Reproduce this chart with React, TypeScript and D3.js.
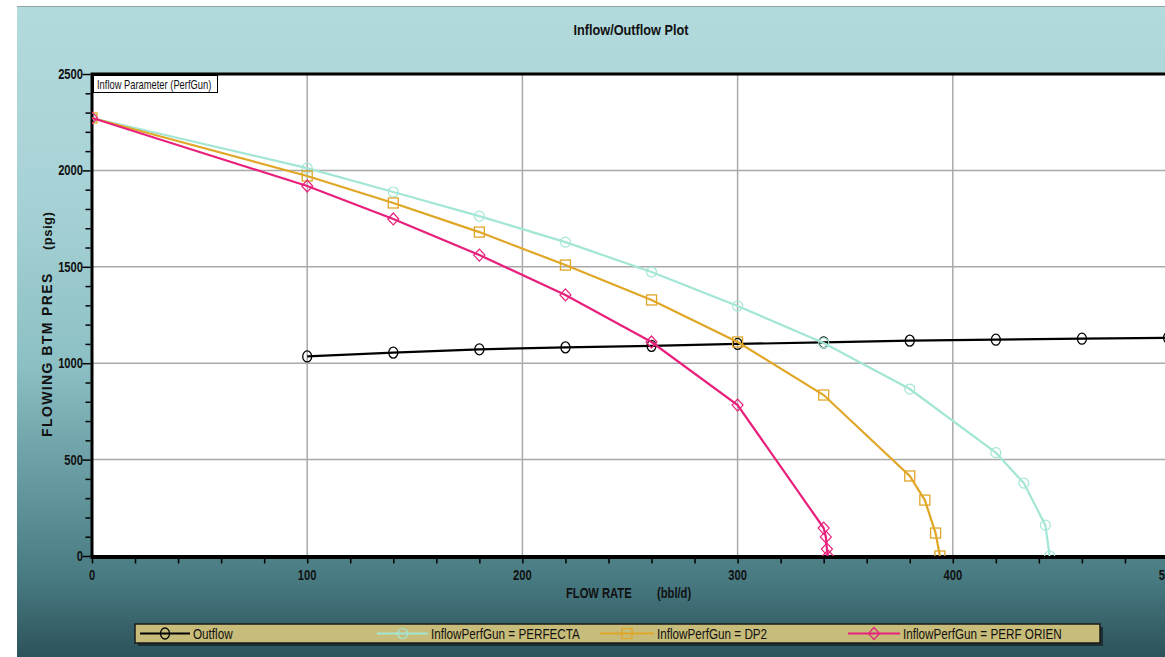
import React, { useEffect, useRef } from 'react';
import * as d3 from 'd3';

// Outflow curve (tubing performance)
const outflowX = [100, 140, 180, 220, 260, 300, 340, 380, 420, 460, 500];
const outflowY = [1035, 1055, 1072, 1082, 1090, 1100, 1108, 1117, 1122, 1127, 1132];

// Inflow curves, one per perforating gun
const perfectaX = [0, 100, 140, 180, 220, 260, 300, 340, 380, 420, 433, 443, 445];
const perfectaY = [2272, 2012, 1888, 1763, 1628, 1473, 1297, 1105, 866, 536, 378, 160, 0];

const dp2X = [0, 100, 140, 180, 220, 260, 300, 340, 380, 387, 392, 394];
const dp2Y = [2272, 1971, 1831, 1680, 1509, 1328, 1110, 835, 415, 290, 119, 0];

const orienX = [0, 100, 140, 180, 220, 260, 300, 340, 341, 341.5, 342];
const orienY = [2272, 1919, 1748, 1561, 1354, 1110, 783, 145, 99, 36, 0];

const seriesNames = ['Outflow', 'InflowPerfGun = PERFECTA', 'InflowPerfGun = DP2', 'InflowPerfGun = PERF ORIEN'];

const xTicks = [0, 100, 200, 300, 400, 500];
const yTicks = [0, 500, 1000, 1500, 2000, 2500];

const FONT = '"Liberation Sans", Arial, sans-serif';

// no narrow font installed, so squeeze a normal one horizontally
const narrowText = (g: any, x: number, y: number, text: string | number,
  opts: { size: number; bold?: boolean; anchor?: string; squeeze?: number; fill?: string }) =>
  g.append('text')
    .attr('transform', `translate(${x}, ${y}) scale(${opts.squeeze ?? 0.8}, 1)`)
    .attr('text-anchor', opts.anchor || 'start')
    .style('font-family', FONT)
    .style('font-weight', opts.bold ? 'bold' : 'normal')
    .style('font-size', `${opts.size}px`)
    .attr('fill', opts.fill || '#111')
    .text(text);

const App = () => {
  const ref = useRef<SVGSVGElement>(null);

  useEffect(() => {
    if (!ref.current) return;
    const svg = d3.select(ref.current);
    svg.selectAll('*').remove();

    const W = 1165;
    const H = 657;
    const plot = { left: 92, top: 74, right: 1168, bottom: 556 };

    const x = d3.scaleLinear().domain([0, 500]).range([plot.left, plot.right]);
    const y = d3.scaleLinear().domain([0, 2500]).range([plot.bottom, plot.top]);

    const defs = svg.append('defs');
    const grad = defs.append('linearGradient')
      .attr('id', 'bg').attr('x1', 0).attr('y1', 0).attr('x2', 0).attr('y2', 1);
    [
      [0, '#b3dadd'], [0.3, '#a7d2d5'], [0.55, '#8cc0c4'], [0.75, '#62959c'],
      [0.88, '#487a82'], [1, '#2c525a'],
    ].forEach(([o, c]) => grad.append('stop').attr('offset', o as number).attr('stop-color', c as string));

    defs.append('clipPath').attr('id', 'plotclip')
      .append('rect')
      .attr('x', plot.left).attr('y', plot.top)
      .attr('width', plot.right - plot.left).attr('height', plot.bottom - plot.top);

    // page + window background
    svg.append('rect').attr('width', W).attr('height', H).attr('fill', '#ffffff');
    svg.append('rect').attr('x', 17).attr('y', 6).attr('width', W - 17).attr('height', H - 6)
      .attr('fill', 'url(#bg)');
    svg.append('line').attr('x1', 17).attr('x2', W).attr('y1', 6.5).attr('y2', 6.5)
      .attr('stroke', '#8fa5a3').attr('stroke-width', 1);

    // title
    narrowText(svg, 631, 35, 'Inflow/Outflow Plot', { size: 15.5, bold: true, anchor: 'middle', squeeze: 0.82 });

    // plot area
    svg.append('rect')
      .attr('x', plot.left).attr('y', plot.top)
      .attr('width', plot.right - plot.left).attr('height', plot.bottom - plot.top)
      .attr('fill', '#ffffff');

    // grid
    const grid = svg.append('g').attr('stroke', '#a9a9a9').attr('stroke-width', 1.5);
    grid.selectAll('.vg').data(xTicks.slice(1, -1)).enter().append('line')
      .attr('x1', d => x(d)).attr('x2', d => x(d))
      .attr('y1', plot.top).attr('y2', plot.bottom);
    grid.selectAll('.hg').data(yTicks.slice(1, -1)).enter().append('line')
      .attr('x1', plot.left).attr('x2', plot.right)
      .attr('y1', d => y(d)).attr('y2', d => y(d));

    // axes (tick marks only, labels drawn squeezed below)
    const xAxis = svg.append('g').attr('transform', `translate(0, ${plot.bottom + 1.5})`)
      .call(d3.axisBottom(x).tickValues(d3.range(0, 501, 20)).tickSize(6).tickSizeOuter(0).tickFormat(() => ''));
    xAxis.select('.domain').remove();
    xAxis.selectAll('line').attr('stroke', '#000').attr('stroke-width', 1.5);

    const yAxis = svg.append('g').attr('transform', `translate(${plot.left - 1.5}, 0)`)
      .call(d3.axisLeft(y).tickValues(d3.range(0, 2501, 100)).tickSize(5).tickSizeOuter(0).tickFormat(() => ''));
    yAxis.select('.domain').remove();
    yAxis.selectAll('.tick line')
      .attr('x2', (d: any) => (d % 500 === 0 ? -8 : -5))
      .attr('stroke', '#000').attr('stroke-width', 1.5);

    const xLab = svg.append('g');
    xTicks.forEach(t => narrowText(xLab, x(t), 580, t, { size: 14, bold: true, anchor: 'middle' }));
    const yLab = svg.append('g');
    yTicks.forEach(t => narrowText(yLab, 83, y(t) + 5, t, { size: 14, bold: true, anchor: 'end' }));

    // thick frame lines (left, top, bottom)
    svg.append('path')
      .attr('d', `M${plot.left},${plot.bottom} L${plot.left},${plot.top} L${W},${plot.top}`)
      .attr('fill', 'none').attr('stroke', '#000').attr('stroke-width', 3);
    svg.append('line')
      .attr('x1', plot.left - 1.5).attr('x2', W).attr('y1', plot.bottom + 1).attr('y2', plot.bottom + 1)
      .attr('stroke', '#000').attr('stroke-width', 4);

    // axis titles
    svg.append('text')
      .attr('transform', 'translate(52, 437) rotate(-90)')
      .style('font-family', FONT).style('font-weight', 'bold')
      .style('font-size', '14px').style('letter-spacing', '1.4px')
      .attr('fill', '#111')
      .text('FLOWING BTM PRES');
    svg.append('text')
      .attr('transform', 'translate(52, 250) rotate(-90)')
      .style('font-family', FONT).style('font-weight', 'bold')
      .style('font-size', '13px').style('letter-spacing', '0.5px')
      .attr('fill', '#111')
      .text('(psig)');
    narrowText(svg, 566, 598, 'FLOW RATE', { size: 14, bold: true });
    narrowText(svg, 657, 598, '(bbl/d)', { size: 14, bold: true });

    // series
    const series = [
      { xs: outflowX, ys: outflowY, color: '#000000', marker: 'circle' },
      { xs: perfectaX, ys: perfectaY, color: '#a3e6d5', marker: 'ring' },
      { xs: dp2X, ys: dp2Y, color: '#e0a626', marker: 'square' },
      { xs: orienX, ys: orienY, color: '#e8207c', marker: 'diamond' },
    ];

    const line = d3.line<[number, number]>().x(d => x(d[0])).y(d => y(d[1]));
    const plotG = svg.append('g').attr('clip-path', 'url(#plotclip)');

    const drawMarker = (g: any, kind: string, color: string, px: number, py: number) => {
      if (kind === 'circle') {
        g.append('ellipse').attr('cx', px).attr('cy', py).attr('rx', 4.5).attr('ry', 5.5)
          .attr('fill', 'none').attr('stroke', color).attr('stroke-width', 1.3);
      } else if (kind === 'ring') {
        g.append('circle').attr('cx', px).attr('cy', py).attr('r', 5)
          .attr('fill', 'none').attr('stroke', color).attr('stroke-width', 1.2);
      } else if (kind === 'square') {
        g.append('rect').attr('x', px - 5).attr('y', py - 5).attr('width', 10).attr('height', 10)
          .attr('fill', 'none').attr('stroke', color).attr('stroke-width', 1.3);
      } else {
        g.append('path').attr('d', `M${px},${py - 6}L${px + 5.5},${py}L${px},${py + 6}L${px - 5.5},${py}Z`)
          .attr('fill', 'none').attr('stroke', color).attr('stroke-width', 1.2);
      }
    };

    series.forEach(s => {
      const pts = s.xs.map((v, i) => [v, s.ys[i]] as [number, number]);
      plotG.append('path').datum(pts)
        .attr('d', line)
        .attr('fill', 'none').attr('stroke', s.color).attr('stroke-width', 2.2);
      pts.forEach(p => drawMarker(plotG, s.marker, s.color, x(p[0]), y(p[1])));
    });

    // inner legend title box
    svg.append('rect').attr('x', 93.5).attr('y', 75.5).attr('width', 124).attr('height', 17)
      .attr('fill', '#fff').attr('stroke', '#000').attr('stroke-width', 1);
    narrowText(svg, 97, 88.5, 'Inflow Parameter (PerfGun)', { size: 12, squeeze: 0.78 });

    // bottom legend
    const leg = svg.append('g');
    leg.append('rect').attr('x', 138).attr('y', 627).attr('width', 965).attr('height', 19).attr('fill', '#1c2f33');
    leg.append('rect').attr('x', 135).attr('y', 624).attr('width', 965).attr('height', 19)
      .attr('fill', '#c8bc7a').attr('stroke', '#1a1a1a').attr('stroke-width', 1.5);
    const legendPos = [
      { x1: 140, x2: 190, tx: 193 },
      { x1: 377, x2: 428, tx: 431 },
      { x1: 600, x2: 654, tx: 657 },
      { x1: 848, x2: 900, tx: 903 },
    ];
    series.forEach((s, i) => {
      const p = legendPos[i];
      leg.append('line').attr('x1', p.x1).attr('x2', p.x2).attr('y1', 633.5).attr('y2', 633.5)
        .attr('stroke', s.color).attr('stroke-width', 2);
      drawMarker(leg, s.marker, s.color, (p.x1 + p.x2) / 2, 633.5);
      narrowText(leg, p.tx, 639, seriesNames[i], { size: 15, squeeze: 0.78 });
    });
  }, []);

  return (
    <svg ref={ref} width={1165} height={657}
      style={{ position: 'absolute', left: 0, top: 0, display: 'block' }} />
  );
};

export default App;
